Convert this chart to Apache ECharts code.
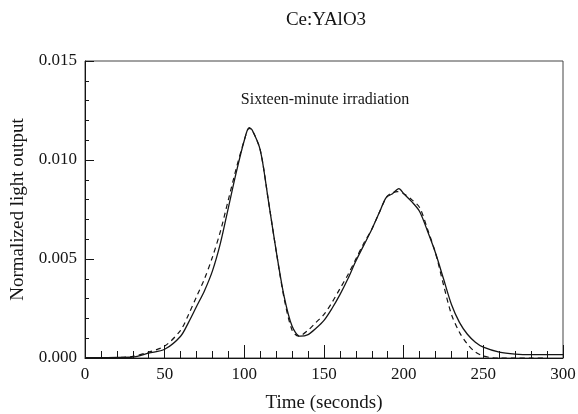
<!DOCTYPE html>
<html>
<head>
<meta charset="utf-8">
<script src="https://cdn.jsdelivr.net/npm/echarts@6/dist/echarts.min.js"></script>
<style>
html,body{margin:0;padding:0;background:#fff;}
#chart{width:578px;height:414px;}
</style>
</head>
<body>
<div id="chart"></div>
<script>
// ---- data ----
const measuredTime  = [0,10,20,30,40,50,60,65,70,75,80,85,90,95,100,103,105,110,115,120,125,130,135,140,145,150,155,160,165,170,175,180,185,189,193,197,200,205,210,215,220,225,230,235,240,245,250,260,270,280,290,300];
const measuredValue = [0.00002,0.00002,0.00003,0.00005,0.00025,0.00044,0.0011,0.0018,0.0026,0.0034,0.0044,0.0058,0.0076,0.0094,0.0110,0.01163,0.0115,0.0105,0.0080,0.0054,0.0031,0.0016,0.0011,0.00118,0.0015,0.0019,0.0025,0.0032,0.0040,0.0049,0.0057,0.0065,0.0074,0.0081,0.0083,0.00855,0.0083,0.0079,0.0074,0.0064,0.0053,0.0040,0.0027,0.0018,0.0012,0.0008,0.00055,0.0003,0.0002,0.00017,0.00017,0.00017];
const fitTime  = [0,10,20,30,40,50,60,65,70,75,80,85,90,95,100,103,105,110,115,120,125,130,134,140,145,150,155,160,165,170,175,180,185,190,196,200,205,210,215,220,225,230,235,240,245,250,255,260,270,280,290];
const fitValue = [0,0,0.00002,0.00008,0.0003,0.0006,0.0014,0.0022,0.0031,0.0040,0.0051,0.0064,0.0080,0.0096,0.0110,0.0116,0.0115,0.0105,0.0080,0.0054,0.0030,0.0014,0.0011,0.0014,0.0018,0.0022,0.0028,0.0035,0.0042,0.0050,0.0058,0.0065,0.0074,0.0082,0.0084,0.0083,0.0080,0.0076,0.0065,0.0053,0.0037,0.0022,0.0013,0.0007,0.0003,0.0001,0.00002,0,0,0,0];
const xTicks = [0,50,100,150,200,250,300];
const yTicks = [0.000,0.005,0.010,0.015];
const titleText = 'Ce:YAlO3';
const noteText = 'Sixteen-minute irradiation';
const xName = 'Time (seconds)';
const yName = 'Normalized light output';

const pair = (t, v) => t.map((x, i) => [x, v[i]]);
const FONT = '"Liberation Serif", "DejaVu Serif", serif';
const INK = '#151515';

const chart = echarts.init(document.getElementById('chart'), null, {renderer: 'canvas'});
chart.setOption({
  backgroundColor: '#fff',
  animation: false,
  grid: {left: 85, right: 15, top: 61, bottom: 56, containLabel: false, outerBoundsMode: 'none',
         show: true, borderColor: '#444', borderWidth: 1, backgroundColor: 'transparent'},
  graphic: [
    {type: 'text', x: 326, y: 20, style: {text: titleText, font: '19px ' + FONT, fill: INK, textAlign: 'center', textVerticalAlign: 'middle'}},
    {type: 'text', x: 325, y: 100, style: {text: noteText, font: '16px ' + FONT, fill: INK, textAlign: 'center', textVerticalAlign: 'middle'}}
  ],
  xAxis: {
    type: 'value', min: xTicks[0], max: xTicks[xTicks.length - 1], interval: 50,
    axisLine: {show: true, lineStyle: {color: INK, width: 1}},
    axisTick: {show: true, inside: true, length: 13, lineStyle: {color: INK}},
    minorTick: {show: true, splitNumber: 5, length: 7, lineStyle: {color: INK}},
    splitLine: {show: false},
    axisLabel: {fontFamily: FONT, fontSize: 17, color: INK, margin: 8},
    name: xName, nameLocation: 'middle', nameGap: 36,
    nameTextStyle: {fontFamily: FONT, fontSize: 19, color: INK}
  },
  yAxis: {
    type: 'value', min: yTicks[0], max: yTicks[yTicks.length - 1], interval: 0.005,
    axisLine: {show: true, lineStyle: {color: INK, width: 1}},
    axisTick: {show: true, inside: true, length: 9, lineStyle: {color: INK}},
    minorTick: {show: true, splitNumber: 5, length: 4, lineStyle: {color: INK}},
    splitLine: {show: false},
    axisLabel: {fontFamily: FONT, fontSize: 17, color: INK, margin: 8, formatter: v => v.toFixed(3)},
    name: yName, nameLocation: 'middle', nameGap: 53,
    nameTextStyle: {fontFamily: FONT, fontSize: 19, color: INK}
  },
  series: [
    {type: 'line', name: 'fit', data: pair(fitTime, fitValue), showSymbol: false, smooth: 0.3,
     lineStyle: {color: INK, width: 1.2, type: [5, 4]}, z: 2},
    {type: 'line', name: 'measured', data: pair(measuredTime, measuredValue), showSymbol: false, smooth: 0.3,
     lineStyle: {color: INK, width: 1.3, type: 'solid'}, z: 3}
  ]
});
</script>
</body>
</html>
